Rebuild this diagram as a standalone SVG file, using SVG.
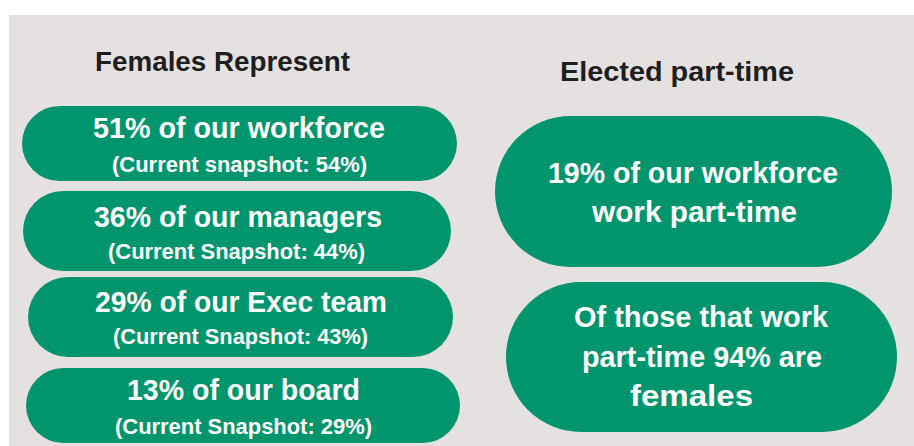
<svg xmlns="http://www.w3.org/2000/svg" width="914" height="446" viewBox="0 0 914 446">
<style>
.pill{fill:#01956d}
.h{font-family:"Liberation Sans",Arial,sans-serif;font-weight:bold;font-size:28px;fill:#1e1e1e;text-anchor:middle}
.t1{font-family:"Liberation Sans",Arial,sans-serif;font-weight:bold;font-size:29px;fill:#ffffff;text-anchor:middle}
.t2{font-family:"Liberation Sans",Arial,sans-serif;font-weight:bold;font-size:22px;fill:#ffffff;text-anchor:middle}
</style>
<rect x="0" y="0" width="914" height="446" fill="#ffffff"/>
<rect x="9" y="15" width="905" height="431" fill="#e5e1e1"/>
<g id="heading-left"><text class="h" x="222.5" y="71" textLength="255" lengthAdjust="spacingAndGlyphs">Females Represent</text></g>
<g id="heading-right"><text class="h" x="677" y="81" textLength="234" lengthAdjust="spacingAndGlyphs">Elected part-time</text></g>
<g id="node-workforce">
<rect class="pill" x="22" y="106" width="435" height="75" rx="37.5"/>
<text class="t1" x="239" y="138" textLength="292" lengthAdjust="spacingAndGlyphs">51% of our workforce</text>
<text class="t2" x="239.5" y="171.5" textLength="255" lengthAdjust="spacingAndGlyphs">(Current snapshot: 54%)</text>
</g>
<g id="node-managers">
<rect class="pill" x="23" y="191" width="428" height="80" rx="40"/>
<text class="t1" x="238" y="227" textLength="288" lengthAdjust="spacingAndGlyphs">36% of our managers</text>
<text class="t2" x="236.5" y="259" textLength="257" lengthAdjust="spacingAndGlyphs">(Current Snapshot: 44%)</text>
</g>
<g id="node-exec">
<rect class="pill" x="28" y="277" width="425" height="80" rx="40"/>
<text class="t1" x="241" y="312" textLength="292" lengthAdjust="spacingAndGlyphs">29% of our Exec team</text>
<text class="t2" x="240.5" y="344" textLength="255" lengthAdjust="spacingAndGlyphs">(Current Snapshot: 43%)</text>
</g>
<g id="node-board">
<rect class="pill" x="26" y="368" width="434" height="75" rx="37.5"/>
<text class="t1" x="243.5" y="400" textLength="233" lengthAdjust="spacingAndGlyphs">13% of our board</text>
<text class="t2" x="243.5" y="433.5" textLength="257" lengthAdjust="spacingAndGlyphs">(Current Snapshot: 29%)</text>
</g>
<g id="node-parttime">
<rect class="pill" x="495" y="116" width="397" height="151" rx="75.5"/>
<text class="t1" x="693" y="183" textLength="290" lengthAdjust="spacingAndGlyphs">19% of our workforce</text>
<text class="t1" x="694.5" y="222" textLength="205" lengthAdjust="spacingAndGlyphs">work part-time</text>
</g>
<g id="node-females">
<rect class="pill" x="506" y="282" width="391" height="150" rx="75"/>
<text class="t1" x="701" y="327" textLength="254" lengthAdjust="spacingAndGlyphs">Of those that work</text>
<text class="t1" x="702" y="366.5" textLength="240" lengthAdjust="spacingAndGlyphs">part-time 94% are</text>
<text class="t1" x="691.5" y="406" textLength="123" lengthAdjust="spacingAndGlyphs">females</text>
</g>
<g id="connectors"></g>
</svg>
